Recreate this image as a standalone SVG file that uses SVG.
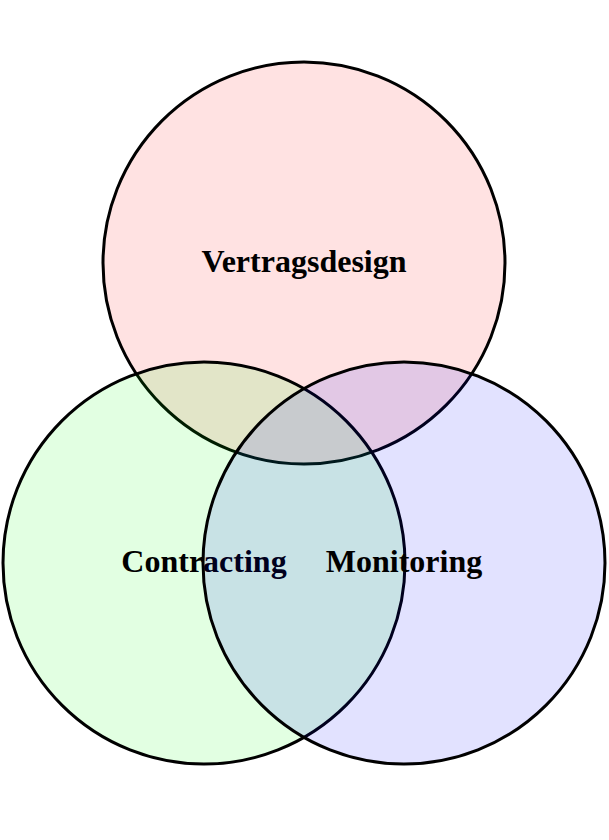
<svg xmlns="http://www.w3.org/2000/svg" width="609" height="840" viewBox="0 0 609 840">
<style>
.c{stroke:#000;stroke-width:3}
.t{font-family:"Liberation Serif","Times New Roman",serif;font-weight:bold;font-size:32px;text-anchor:middle;fill:#000}
</style>
<rect width="609" height="840" fill="#fff"/>
<g id="vertragsdesign">
<circle class="c" cx="304" cy="263" r="201" fill="rgb(255,0,0)" fill-opacity="0.115"/>
<text class="t" x="304" y="272">Vertragsdesign</text>
</g>
<g id="contracting">
<circle class="c" cx="204" cy="563" r="201" fill="rgb(0,255,0)" fill-opacity="0.115" stroke-opacity="1"/>
<text class="t" x="204" y="572">Contracting</text>
</g>
<g id="monitoring">
<circle class="c" cx="404" cy="563" r="201" fill="rgb(0,0,255)" fill-opacity="0.115"/>
<text class="t" x="404" y="572">Monitoring</text>
</g>
<g id="connectors"></g>
</svg>
